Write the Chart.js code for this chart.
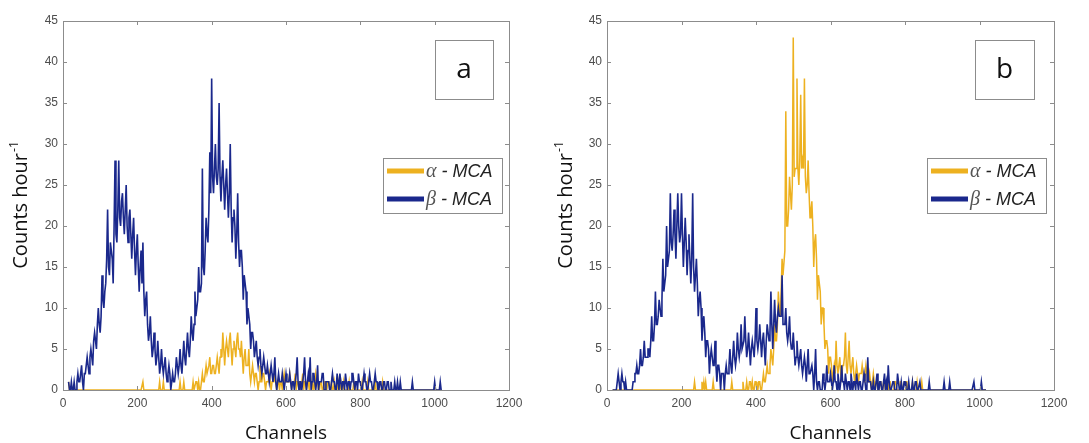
<!DOCTYPE html>
<html>
<head>
<meta charset="utf-8">
<script src="https://cdn.jsdelivr.net/npm/chart.js@4.4.1/dist/chart.umd.min.js"></script>
<style>
   html, body { margin: 0; padding: 0; background: #ffffff; }
   #wrap { position: relative; width: 1089px; height: 443px; }
   canvas { position: absolute; top: 0; }
   #chartA { left: 0; }
   #chartB { left: 545px; }
</style>
</head>
<body>
<div id="wrap">
   <canvas id="chartA" width="545" height="443"></canvas>
   <canvas id="chartB" width="544" height="443"></canvas>
</div>
<script>
// Spectra are read in 5-channel bins from channel 15 to 1015 :
// the "edge" arrays sit on the bin start, the "mid" arrays half a bin later
const firstChannel = 15;
const channelStep = 5;

// Panel a : counts per hour
const alphaA = [
   1,0,0,0,0,0,0,0,0,0,0,0,0,0,0,0,0,0,0,0,          // 15 - 110
   0,0,0,0,0,0,0,0,0,0,0,0,0,0,0,0,0,0,0,0,          // 115 - 210
   1,0,0,0,0,0,0,0,0,1,0,1,0,0,0,0,0,0,0,0,          // 215 - 310
   1,0,1,0,0,0,0,1,0,1,1,0,2,1,3,2,4,2,3,2,          // 315 - 410
   4,2,5,7,3,6,4,7,3,6,4,7,5,6,2,5,3,5,1,3,          // 415 - 510
   1,2,0,3,1,2,0,1,2,0,1,2,0,1,1,0,2,1,1,2,          // 515 - 610
   0,1,2,1,0,1,2,1,0,1,2,1,0,2,1,0,1,0,1,0,          // 615 - 710
   1,0,0,1,0,1,0,0,1,0,0,1,0,0,1,0,0,0,1,0,          // 715 - 810
   0,1,0,0,0,1,0,0,0,1,0,0,0,0,0,0,0,0,0,0,          // 815 - 910
   0,0,0,0,0,0,0,0,0,0,0,0,0,0,0,0,0,0,0,0,          // 915 - 1010
   0
];
const alphaAMid = [
   0,0,0,0,0,0,0,0,0,0,0,0,0,0,0,0,0,0,0,0,
   0,0,0,0,0,0,0,0,0,0,0,0,0,0,0,0,0,0,0,0,
   0,0,0,0,0,0,0,0,0,0,0,0,0,0,0,0,0,0,0,0,
   0,0,0,0,0,0,0,0,1,0,0,1,1,2,2,3,2,3,2,3,
   3,4,4,5,5,5,6,5,5,5,6,5,4,4,4,3,3,2,2,2,
   2,1,1,1,2,1,1,1,1,1,1,1,1,0,1,1,1,1,1,1,
   1,1,0,1,1,1,0,1,1,0,1,0,1,1,0,1,0,1,0,1,
   0,1,0,0,0,0,1,0,0,0,0,0,0,1,0,0,0,0,0,0,
   0,0,0,0,0,0,0,0,0,0,0,0,0,0,0,0,0,0,0,0,
   0,0,0,0,0,0,0,0,0,0,0,0,0,0,0,0,0,0,0,0,
   0
];
const betaA = [
   1,0,0,1,0,2,1,3,0,2,4,2,5,3,7,5,10,7,14,10,
   13,22,14,17,13,28,18,28,20,24,19,25,18,22,16,21,14,19,12,17,
   18,9,12,6,9,4,7,3,6,2,5,2,4,1,3,0,2,1,4,2,
   5,2,6,3,7,4,9,6,12,10,15,12,27,14,21,18,29,38,24,30,
   25,35,23,28,22,27,21,30,18,22,16,24,15,17,11,13,8,9,5,7,
   4,6,3,5,2,4,2,3,1,3,1,4,0,2,1,2,0,2,1,2,
   0,1,1,4,0,1,1,4,0,2,4,1,2,0,3,1,1,2,0,1,
   1,0,2,1,0,1,2,0,1,2,0,1,1,2,0,1,2,1,0,2,
   1,0,2,1,0,2,1,0,1,0,1,0,1,0,0,0,0,1,0,0,
   0,0,0,0,0,1,0,0,0,0,0,0,0,0,0,0,0,1,0,0,
   1
];
const betaAMid = [
   0,1,0,0,1,1,2,1,2,3,3,4,4,6,6,8,8,9,11,12,
   16,15,18,16,20,19,22,21,23,21,22,20,21,19,19,17,17,15,15,13,
   12,11,8,7,6,5,5,4,4,3,3,3,2,2,2,1,1,2,3,3,
   3,4,4,5,5,6,7,8,9,11,12,13,15,17,19,22,24,26,27,26,
   27,26,26,25,25,24,24,22,21,20,19,18,17,15,14,12,10,8,7,6,
   5,4,4,3,3,3,2,2,2,2,2,1,1,1,1,1,1,1,1,1,
   1,0,2,1,1,0,2,1,1,1,0,2,1,1,0,1,2,0,1,1,
   0,1,1,0,2,0,1,1,0,1,1,0,2,1,1,0,1,0,1,1,
   0,1,1,0,1,1,0,1,0,1,0,1,0,1,0,1,0,0,1,0,
   0,0,0,0,0,0,0,0,0,0,0,0,0,0,0,0,0,0,0,0,
   0
];

// Panel b : counts per hour
const alphaB = [
   0,0,0,0,0,0,0,0,0,0,0,0,0,0,0,0,0,0,0,0,
   0,0,0,0,0,0,0,0,0,0,0,0,0,0,0,0,0,0,0,0,
   0,0,0,0,1,0,0,0,1,1,1,0,0,0,1,0,0,0,0,0,
   0,0,0,0,1,0,0,0,0,0,1,0,1,0,1,1,0,1,0,1,
   0,2,1,3,2,5,3,8,6,12,9,16,14,34,20,26,22,43,27,38,
   25,36,28,38,24,28,21,23,15,19,11,13,8,10,5,6,2,4,1,3,
   6,2,4,1,3,7,2,6,2,4,1,3,1,2,3,1,3,1,2,0,
   2,0,1,0,1,0,1,0,0,1,0,0,1,0,0,1,0,0,1,0,
   0,1,0,0,0,0,1,0,0,0,0,0,0,0,0,0,0,0,0,0,
   0,0,0,0,0,0,0,0,0,0,0,0,0,0,0,0,0,0,0,0,
   0
];
const alphaBMid = [
   0,0,0,0,0,0,0,0,0,0,0,0,0,0,0,0,0,0,0,0,
   0,0,0,0,0,0,0,0,0,0,0,0,0,0,0,0,0,0,0,0,
   0,0,0,0,0,0,0,0,0,0,0,0,0,0,0,0,0,0,0,0,
   0,0,0,0,0,0,0,0,0,0,0,0,0,1,0,0,1,0,1,0,
   1,1,2,2,3,4,5,6,8,10,12,14,17,20,22,24,25,26,27,27,
   28,27,27,26,25,24,22,20,18,16,14,12,10,8,6,5,4,3,2,2,
   3,3,2,3,4,3,4,3,3,2,2,2,2,2,2,2,2,1,1,1,
   1,1,0,1,0,1,0,0,1,0,0,1,0,0,1,0,0,1,0,0,
   0,0,0,1,0,0,0,0,0,0,0,0,0,0,0,0,0,0,0,0,
   0,0,0,0,0,0,0,0,0,0,0,0,0,0,0,0,0,0,0,0,
   0
];
const betaB = [
   0,0,0,2,0,2,1,1,0,0,0,1,2,3,2,5,3,6,4,5,
   4,9,6,12,8,11,9,16,13,20,16,24,17,22,16,24,18,24,15,21,
   14,19,13,24,12,16,9,12,6,9,4,6,2,5,3,6,1,3,0,2,
   0,3,2,5,2,6,3,7,4,8,5,9,4,7,3,6,4,10,5,8,
   4,7,3,8,6,12,5,11,7,10,9,14,8,10,6,9,5,7,3,6,
   3,5,2,4,1,5,2,3,0,5,0,1,0,2,0,3,1,2,0,3,
   1,2,0,3,1,2,0,1,2,0,1,2,0,1,0,2,0,4,1,0,
   1,0,2,0,1,0,2,1,3,0,0,1,0,2,0,1,0,1,0,1,
   0,1,0,1,0,1,0,0,0,0,1,0,0,0,0,0,0,0,1,0,
   0,1,0,0,0,0,0,0,0,0,0,0,0,0,1,0,0,0,1,0,
   0
];
const betaBMid = [
   0,0,1,1,1,1,0,0,0,0,0,1,2,2,3,3,4,4,4,5,
   6,6,8,8,9,10,11,12,14,15,17,18,19,19,20,20,19,19,18,18,
   17,16,16,15,14,13,11,10,8,7,6,5,4,4,3,3,3,2,2,2,
   2,2,3,3,4,4,4,5,5,5,6,6,5,5,5,5,6,6,6,6,
   6,5,6,7,7,8,8,8,9,9,9,8,8,7,7,6,5,5,4,4,
   4,3,3,3,3,2,2,2,2,1,1,0,0,1,1,1,1,1,1,1,
   0,1,1,1,0,1,1,0,1,1,0,1,1,0,1,1,0,1,1,0,
   0,1,0,1,0,1,0,0,1,0,1,0,0,1,0,0,1,0,0,0,
   0,0,1,0,0,0,0,0,0,0,0,0,0,0,0,0,0,0,0,0,
   0,0,0,0,0,0,0,0,0,0,0,0,0,0,0,0,0,0,0,0,
   0
];

const xTickValues = [0, 200, 400, 600, 800, 1000, 1200];
const yTickValues = [0, 5, 10, 15, 20, 25, 30, 35, 40, 45];

const colorAlpha = 'rgb(237, 177, 32)';
const colorBeta = 'rgb(26, 40, 140)';
const axisColor = '#8c8c8c';

Chart.defaults.font.family = '"Liberation Sans", Arial, sans-serif';
Chart.defaults.font.size = 12;
Chart.defaults.color = '#4d4d4d';

// interleave the two readings of every bin into one trace
function toPoints(edge, mid) {
   const pts = [];
   edge.forEach((v, i) => {
      const c = firstChannel + i * channelStep;
      pts.push({ x: c, y: v });
      pts.push({ x: c + channelStep / 2, y: mid[i] });
   });
   return pts;
}

// box, inward ticks, panel letter, legend and axis titles
const panelDecor = {
   id: 'panelDecor',
   afterDraw(chart, args, opts) {
      const ctx = chart.ctx;
      const { left, right, top, bottom } = chart.chartArea;
      const xs = chart.scales.x;
      const ys = chart.scales.y;
      ctx.save();

      ctx.strokeStyle = axisColor;
      ctx.lineWidth = 1;
      ctx.strokeRect(left + 0.5, top + 0.5, right - left, bottom - top);
      ctx.beginPath();
      xTickValues.forEach(v => {
         const px = Math.round(xs.getPixelForValue(v)) + 0.5;
         ctx.moveTo(px, bottom); ctx.lineTo(px, bottom - 4);
         ctx.moveTo(px, top); ctx.lineTo(px, top + 4);
      });
      yTickValues.forEach(v => {
         const py = Math.round(ys.getPixelForValue(v)) + 0.5;
         ctx.moveTo(left, py); ctx.lineTo(left + 4, py);
         ctx.moveTo(right, py); ctx.lineTo(right - 4, py);
      });
      ctx.stroke();

      // panel letter
      const lb = opts.letterBox;
      ctx.fillStyle = '#ffffff';
      ctx.fillRect(lb.x, lb.y, lb.w, lb.h);
      ctx.strokeStyle = axisColor;
      ctx.strokeRect(lb.x + 0.5, lb.y + 0.5, lb.w, lb.h);
      ctx.fillStyle = '#111111';
      ctx.font = '28px "Open Sans", sans-serif';
      ctx.textAlign = 'center';
      ctx.textBaseline = 'middle';
      ctx.fillText(opts.letter, lb.x + lb.w / 2, lb.y + lb.h / 2 + 1);

      // legend
      const lg = opts.legendBox;
      ctx.fillStyle = '#ffffff';
      ctx.fillRect(lg.x, lg.y, lg.w, lg.h);
      ctx.strokeStyle = axisColor;
      ctx.strokeRect(lg.x + 0.5, lg.y + 0.5, lg.w, lg.h);
      const rows = [
         { color: colorAlpha, greek: 'α', y: lg.y + 13 },
         { color: colorBeta, greek: 'β', y: lg.y + 41 }
      ];
      rows.forEach(r => {
         ctx.strokeStyle = r.color;
         ctx.lineWidth = 5;
         ctx.beginPath();
         ctx.moveTo(lg.x + 4, r.y);
         ctx.lineTo(lg.x + 41, r.y);
         ctx.stroke();
         ctx.textAlign = 'left';
         ctx.textBaseline = 'middle';
         ctx.font = 'italic 20px "Liberation Serif", serif';
         ctx.fillStyle = '#555555';
         ctx.fillText(r.greek, lg.x + 43, r.y + 1);
         const gw = ctx.measureText(r.greek).width;
         ctx.font = 'italic 18px "Liberation Sans", Arial, sans-serif';
         ctx.fillStyle = '#222222';
         ctx.fillText(' - MCA', lg.x + 43 + gw, r.y + 1);
      });

      // axis titles
      ctx.fillStyle = '#111111';
      ctx.font = '19px "Open Sans", sans-serif';
      ctx.textAlign = 'center';
      ctx.textBaseline = 'alphabetic';
      ctx.fillText('Channels', (left + right) / 2, 439);

      ctx.translate(opts.yTitleX, (top + bottom) / 2);
      ctx.rotate(-Math.PI / 2);
      ctx.font = '20px "Open Sans", sans-serif';
      const w1 = ctx.measureText('Counts hour').width;
      ctx.font = '12px "Open Sans", sans-serif';
      const w2 = ctx.measureText('-1').width;
      const start = -(w1 + w2) / 2;
      ctx.textAlign = 'left';
      ctx.font = '20px "Open Sans", sans-serif';
      ctx.fillText('Counts hour', start, 0);
      ctx.font = '12px "Open Sans", sans-serif';
      ctx.fillText('-1', start + w1 + 1, -9);

      ctx.restore();
   }
};

function createPanel(element, alpha, alphaMid, beta, betaMid, panel) {
   return new Chart(element, {
      type: 'line',
      data: {
         datasets: [
            {
               label: 'α - MCA',
               data: toPoints(alpha, alphaMid),
               borderColor: colorAlpha,
               borderWidth: 1.5,
               pointRadius: 0,
               tension: 0,
               clip: 1,
               order: 2
            },
            {
               label: 'β - MCA',
               data: toPoints(beta, betaMid),
               borderColor: colorBeta,
               borderWidth: 1.6,
               pointRadius: 0,
               tension: 0,
               clip: 1,
               order: 1
            }
         ]
      },
      options: {
         responsive: false,
         animation: false,
         events: [],
         layout: {
            padding: { left: 0, top: 21, right: panel.padRight, bottom: 0 }
         },
         plugins: {
            legend: { display: false },
            tooltip: { enabled: false },
            panelDecor: panel
         },
         scales: {
            x: {
               type: 'linear',
               min: 0,
               max: 1200,
               afterBuildTicks: s => { s.ticks = xTickValues.map(v => ({ value: v })); },
               afterFit: s => { s.height = 53; },
               ticks: { padding: 6, maxRotation: 0, callback: v => String(v) },
               grid: { display: false, drawTicks: false },
               border: { display: false }
            },
            y: {
               min: 0,
               max: 45,
               afterBuildTicks: s => { s.ticks = yTickValues.map(v => ({ value: v })); },
               afterFit: s => { s.width = panel.axisLeft; },
               ticks: { padding: 5, callback: v => String(v) },
               grid: { display: false, drawTicks: false },
               border: { display: false }
            }
         }
      },
      plugins: [panelDecor]
   });
}

createPanel(document.getElementById('chartA'), alphaA, alphaAMid, betaA, betaAMid, {
   letter: 'a',
   padRight: 36,
   axisLeft: 63,
   yTitleX: 27,
   letterBox: { x: 435, y: 40, w: 58, h: 59 },
   legendBox: { x: 383, y: 158, w: 119, h: 55 }
});

createPanel(document.getElementById('chartB'), alphaB, alphaBMid, betaB, betaBMid, {
   letter: 'b',
   padRight: 35,
   axisLeft: 62,
   yTitleX: 27,
   letterBox: { x: 430, y: 40, w: 59, h: 59 },
   legendBox: { x: 382, y: 158, w: 119, h: 55 }
});
</script>
</body>
</html>
